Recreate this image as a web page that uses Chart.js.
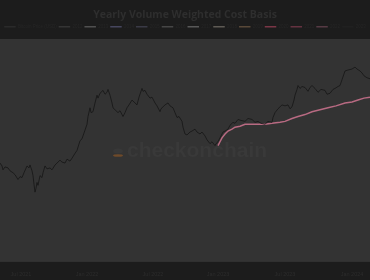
<!DOCTYPE html>
<html>
<head>
<meta charset="utf-8">
<script src="https://cdn.jsdelivr.net/npm/chart.js@4"></script>
<style>
	body { margin: 0; background: #1c1c1c; }
	canvas { display: block; }
</style>
</head>
<body>
<canvas id="target" width="370" height="280"></canvas>
<script>
// time axis position of each price sample (chart units)
const priceT = [0, 2, 3, 5, 8, 10, 13, 15, 18, 20, 22, 24, 27, 29, 30, 32, 33, 34, 35, 36, 37, 38, 40, 42, 43, 45, 47, 50, 52, 55, 57, 60, 62, 65, 67, 70, 72, 75, 77, 80, 82, 83, 85, 87, 88, 90, 91, 93, 95, 97, 98, 100, 102, 103, 105, 107, 108, 110, 112, 113, 115, 118, 120, 123, 125, 127, 129, 132, 134, 137, 139, 142, 143, 145, 147, 150, 152, 155, 157, 160, 161, 163, 165, 168, 170, 173, 175, 177, 179, 182, 183, 185, 187, 190, 192, 195, 197, 200, 202, 205, 207, 210, 212, 215, 216, 218, 220, 223, 225, 228, 230, 233, 235, 238, 241, 245, 248, 252, 255, 258, 261, 265, 268, 272, 273, 275, 278, 282, 285, 288, 290, 292, 294, 295, 297, 298, 300, 302, 305, 308, 310, 312, 315, 318, 321, 325, 327, 330, 333, 335, 338, 340, 342, 345, 348, 352, 355, 357, 360, 362, 364, 367, 370];
const priceV = [102, 99, 95, 98, 97, 94, 92, 90, 85, 88, 87, 92, 99, 97, 100, 94, 89, 80, 72, 76, 82, 79, 89, 87, 92, 99, 96, 97, 95, 100, 102, 105, 103, 102, 106, 104, 107, 112, 115, 125, 127, 130, 136, 142, 150, 159, 154, 155, 164, 172, 169, 174, 176, 177, 173, 175, 178, 172, 164, 159, 157, 154, 156, 150, 154, 159, 162, 167, 165, 162, 170, 179, 176, 177, 173, 169, 170, 164, 161, 155, 158, 160, 162, 164, 161, 159, 154, 149, 150, 145, 139, 132, 131, 134, 135, 137, 134, 132, 134, 130, 126, 122, 124, 120, 122, 124, 128, 134, 135, 137, 141, 144, 143, 147, 146, 145, 148, 147, 144, 145, 143, 142, 145, 144, 149, 154, 158, 162, 161, 162, 158, 160, 167, 172, 178, 182, 179, 181, 180, 176, 180, 182, 179, 175, 178, 177, 173, 174, 178, 179, 181, 182, 188, 197, 198, 199, 201, 199, 197, 195, 192, 190, 189];

// current year VWAP
const vwapT = [218, 220, 222, 225, 228, 232, 235, 240, 245, 252, 258, 265, 272, 280, 285, 292, 298, 305, 312, 320, 328, 336, 345, 352, 358, 364, 370];
const vwapV = [120, 124, 128, 132, 135, 137, 139, 140, 142, 142, 142, 142, 143, 144, 145, 148, 150, 152, 155, 157, 159, 161, 164, 165, 167, 169, 170];

const tickPos = [21, 87, 153, 218, 285, 352];
const tickLabels = ['Jul 2021', 'Jan 2022', 'Jul 2022', 'Jan 2023', 'Jul 2023', 'Jan 2024'];

const seriesNames = ['Bitcoin Price (USD)', '2012', '2013', '2014', '2015', '2016', '2017', '2018', '2019', '2020', '2021', '2022', '2023'];
const legendColors = ['#2a2a2a', '#343434', '#505050', '#46465e', '#3a3a46', '#464646', '#585858', '#5e5a54', '#584838', '#7a3646', '#643240', '#563a44', '#202020'];
const vwapIndex = 9;

const toPoints = (t, v) => t.map((x, i) => ({x: x, y: v[i]}));

const datasets = seriesNames.map((name, i) => ({
	label: name,
	data: [],
	borderColor: legendColors[i],
	borderWidth: 1,
	pointRadius: 0
}));
datasets[0].data = toPoints(priceT, priceV);
datasets[0].borderColor = '#151515';
datasets[0].borderWidth = 0.8;
datasets[vwapIndex].data = toPoints(vwapT, vwapV);
datasets[vwapIndex].borderColor = '#b86a82';
datasets[vwapIndex].borderWidth = 1.5;

const backdrop = {
	id: 'backdrop',
	beforeDraw(chart) {
		const {ctx, chartArea: a} = chart;
		ctx.save();
		ctx.fillStyle = '#1c1c1c';
		ctx.fillRect(0, 0, chart.width, chart.height);
		ctx.fillStyle = '#333333';
		ctx.fillRect(a.left, a.top, a.right - a.left, a.bottom - a.top);
		ctx.restore();
	}
};

const watermark = {
	id: 'watermark',
	beforeDatasetsDraw(chart) {
		const ctx = chart.ctx;
		ctx.save();
		ctx.fillStyle = '#393939';
		ctx.font = 'bold 21px "Liberation Sans"';
		ctx.textBaseline = 'alphabetic';
		ctx.fillText('checkonchain', 127, 157, 141);
		// logo
		ctx.fillStyle = '#383838';
		ctx.beginPath();
		ctx.ellipse(118, 151, 5, 2.5, 0, 0, Math.PI * 2);
		ctx.fill();
		ctx.fillStyle = '#6e4a2a';
		ctx.beginPath();
		ctx.ellipse(118, 155.5, 5, 1.3, 0, 0, Math.PI * 2);
		ctx.fill();
		ctx.restore();
	}
};

new Chart(document.getElementById('target'), {
	type: 'line',
	data: { datasets: datasets },
	options: {
		responsive: false,
		animation: false,
		layout: { padding: { bottom: 1.5 } },
		plugins: {
			title: {
				display: true,
				text: 'Yearly Volume Weighted Cost Basis',
				color: '#2e2e2e',
				font: { family: 'Open Sans', size: 10.5, weight: 'bold', lineHeight: 1 },
				padding: { top: 10, bottom: 2 }
			},
			legend: {
				position: 'top',
				labels: {
					boxWidth: 11.5,
					boxHeight: 1.5,
					padding: 2,
					color: '#262626',
					font: { size: 4.5 },
					generateLabels(chart) {
						return chart.data.datasets.map((d, i) => ({
							text: d.label,
							fillStyle: legendColors[i],
							strokeStyle: legendColors[i],
							lineWidth: 0,
							fontColor: '#262626',
							datasetIndex: i
						}));
					}
				}
			},
			tooltip: { enabled: false }
		},
		scales: {
			x: {
				type: 'linear',
				min: 0,
				max: 370,
				grid: { display: false },
				border: { display: false },
				afterBuildTicks(scale) {
					scale.ticks = tickPos.map(v => ({ value: v }));
				},
				ticks: {
					color: '#2c2c2c',
					font: { size: 5.5 },
					maxRotation: 0,
					autoSkip: false,
					padding: 1,
					callback: v => tickLabels[tickPos.indexOf(v)]
				}
			},
			y: {
				display: false,
				min: 0,
				max: 230
			}
		}
	},
	plugins: [backdrop, watermark]
});
</script>
</body>
</html>
